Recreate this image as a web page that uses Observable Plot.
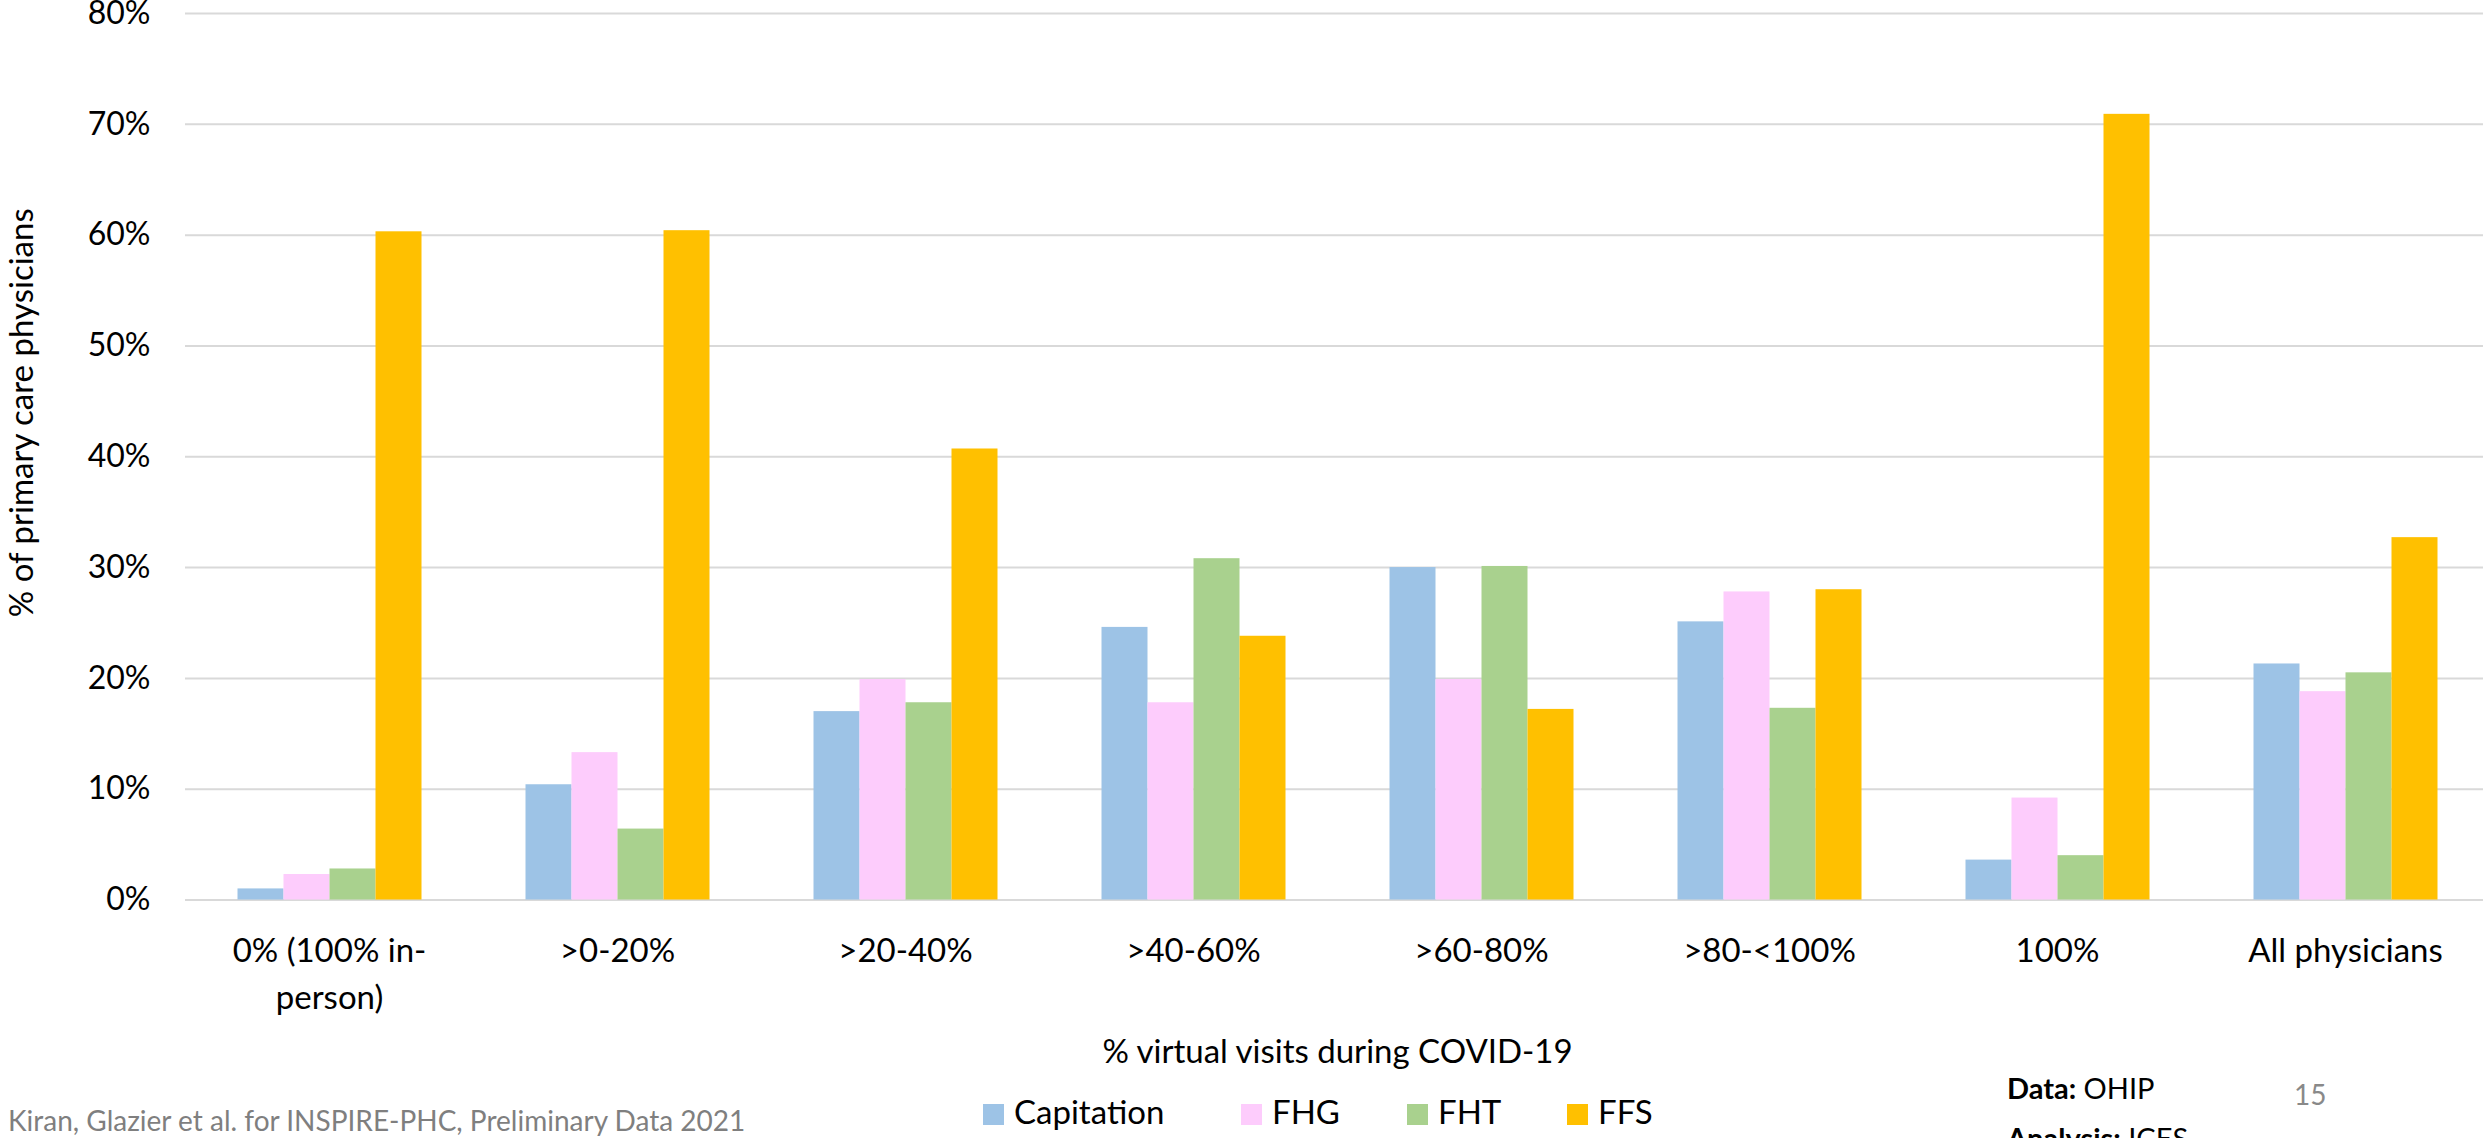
<!DOCTYPE html>
<html>
<head>
<meta charset="utf-8">
<script src="https://cdn.jsdelivr.net/npm/d3@7"></script>
<script src="https://cdn.jsdelivr.net/npm/@observablehq/plot@0.6"></script>
<style>
  html, body { margin: 0; padding: 0; background: #fff; overflow: hidden; }
  #page { position: relative; width: 2483px; height: 1138px; overflow: hidden; font-family: Lato, "Open Sans", sans-serif; color: #000; }
  #footer { position: relative; width: 2483px; height: 68px; }
  #footer > div { position: absolute; white-space: nowrap; }
  #credit { left: 8px; top: 36px; font-size: 28px; line-height: 28px; color: #7f7f7f; }
  #legend { left: 983px; top: 25px; display: flex; font-size: 33px; line-height: 33px; }
  #legend .item { display: flex; align-items: flex-end; }
  #legend .swatch { width: 21px; height: 21px; margin-right: 10px; margin-bottom: 3px; }
  #source { left: 2007px; top: -7px; font-size: 29px; line-height: 50px; }
  #page-no { left: 2294px; top: 10px; font-size: 28px; line-height: 28px; color: #898989; }
</style>
</head>
<body>
<div id="page">
  <div id="chart"></div>
  <div id="footer">
    <div id="credit">Kiran, Glazier et al. for INSPIRE-PHC, Preliminary Data 2021</div>
    <div id="legend"></div>
    <div id="source"><b>Data:</b> OHIP<br><b>Analysis:</b> ICES</div>
    <div id="page-no">15</div>
  </div>
</div>
<script>
// Share of primary care physicians in each payment model, by share of virtual visits
const categories = ["0% (100% in-\nperson)", ">0-20%", ">20-40%", ">40-60%", ">60-80%", ">80-<100%", "100%", "All physicians"];
const models = ["Capitation", "FHG", "FHT", "FFS"];
const capitation = [1.0, 10.4, 17.0, 24.6, 30.0, 25.1, 3.6, 21.3];
const fhg = [2.3, 13.3, 19.9, 17.8, 19.9, 27.8, 9.2, 18.8];
const fht = [2.8, 6.4, 17.8, 30.8, 30.1, 17.3, 4.0, 20.5];
const ffs = [60.3, 60.4, 40.7, 23.8, 17.2, 28.0, 70.9, 32.7];
const yTicks = [0, 10, 20, 30, 40, 50, 60, 70, 80];
const modelColors = ["#9dc3e6", "#fdccfc", "#a9d18e", "#ffc000"];
const legendItemWidths = [258, 166, 160, null];
const xTitle = "% virtual visits during COVID-19";
const yTitle = "% of primary care physicians";

const seriesValues = [capitation, fhg, fht, ffs];
const rows = categories.flatMap((category, i) =>
  models.map((model, j) => ({category, model, value: seriesValues[j][i]}))
);

// Category facets tile the full width so the gridlines run unbroken;
// the wide outer padding of the inner band scale leaves the gap between groups.
const chart = Plot.plot({
  width: 2483,
  height: 1070,
  marginTop: 13,
  marginBottom: 170.5,
  marginLeft: 181.5,
  marginRight: -10,
  style: {fontFamily: "Lato, 'Open Sans', sans-serif", fontSize: "33px", color: "#000", background: "#fff", overflow: "visible"},
  fx: {domain: categories, padding: 0},
  x: {domain: models, paddingInner: 0, paddingOuter: 1.1, axis: null},
  y: {domain: [0, 80], axis: null},
  color: {domain: models, range: modelColors},
  marks: [
    Plot.ruleY(yTicks, {y: d => d, stroke: "#d9d9d9", strokeWidth: 2}),
    Plot.barY(rows, {fx: "category", x: "model", y: "value", fill: "model"}),
    Plot.axisY({ticks: yTicks, tickFormat: d => d + "%", tickSize: 0, tickPadding: 35, fontSize: 32, label: null}),
    Plot.axisFx({anchor: "bottom", tickSize: 0, tickPadding: 29, lineHeight: 1.42, label: xTitle, labelAnchor: "center", labelOffset: 163}),
    Plot.text([yTitle], {text: d => d, frameAnchor: "left", textAnchor: "middle", rotate: -90, dx: -163, dy: -44, fontSize: 33, facet: "super"})
  ]
});
document.getElementById("chart").appendChild(chart);

// Legend row below the chart
const legend = d3.select("#legend");
models.forEach((model, j) => {
  const item = legend.append("div").attr("class", "item");
  if (legendItemWidths[j]) item.style("width", legendItemWidths[j] + "px");
  item.append("div").attr("class", "swatch").style("background", modelColors[j]);
  item.append("span").text(model);
});
</script>
</body>
</html>
